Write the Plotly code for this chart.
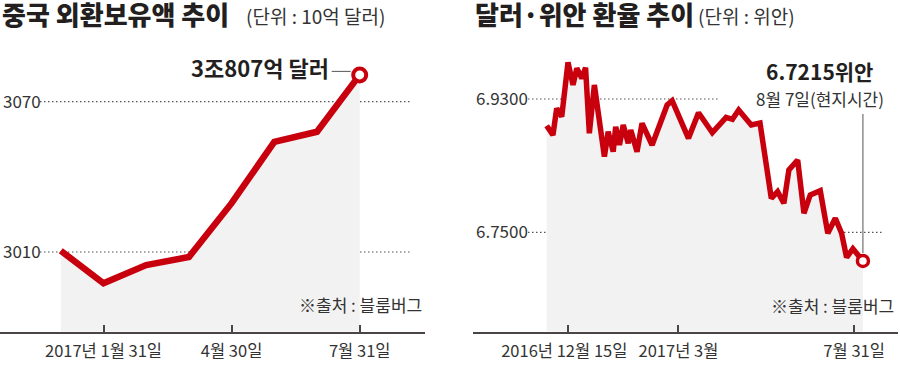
import plotly.graph_objects as go
import pandas as pd

# ---------------- data ----------------
# Left: China FX reserves (unit: 10억 달러), month-end
months = ["2016-12", "2017-01", "2017-02", "2017-03", "2017-04", "2017-05", "2017-06", "2017-07"]
reserves = [3010.5, 2997.5, 3004.8, 3008.0, 3029.5, 3054.0, 3058.0, 3080.7]
left_tick_idx = [1, 4, 7]
left_tick_text = ["2017년 1월 31일", "4월 30일", "7월 31일"]
left_y_ticks = [3010, 3070]
left_y_text = ["3010", "3070"]

# Right: USD/CNY
fx_dates = ["2016-11-28", "2016-12-03", "2016-12-06", "2016-12-10", "2016-12-15", "2016-12-19",
            "2016-12-22", "2016-12-26", "2016-12-29", "2017-01-01", "2017-01-05", "2017-01-09",
            "2017-01-13", "2017-01-16", "2017-01-20", "2017-01-22", "2017-01-25", "2017-01-28",
            "2017-02-01", "2017-02-03", "2017-02-08", "2017-02-12", "2017-02-20", "2017-03-04",
            "2017-03-08", "2017-03-21", "2017-03-29", "2017-04-09", "2017-04-20", "2017-04-25",
            "2017-04-30", "2017-05-10", "2017-05-17", "2017-05-26", "2017-05-31", "2017-06-05",
            "2017-06-09", "2017-06-16", "2017-06-21", "2017-06-26", "2017-07-04", "2017-07-10",
            "2017-07-16", "2017-07-21", "2017-07-25", "2017-07-30", "2017-08-07"]
fx_rates = [6.8940, 6.8814, 6.9174, 6.9061, 6.9795, 6.9489,
            6.9714, 6.9579, 6.9723, 6.8837, 6.9489, 6.9016,
            6.8521, 6.8859, 6.8589, 6.8926, 6.8679, 6.8949,
            6.8702, 6.8881, 6.8589, 6.8972, 6.8679, 6.9219,
            6.9277, 6.8769, 6.9115, 6.8845, 6.9053, 6.9026,
            6.9151, 6.8949, 6.8976, 6.7959, 6.8049, 6.7892,
            6.8341, 6.8476, 6.7757, 6.8004, 6.8062, 6.7487,
            6.7689, 6.7487, 6.7160, 6.7278, 6.7113]
right_tick_dates = ["2016-12-15", "2017-03-13", "2017-07-31"]
right_tick_text = ["2016년 12월 15일", "2017년 3월", "7월 31일"]
right_y_ticks = [6.75, 6.93]
right_y_text = ["6.7500", "6.9300"]

# ---------------- style ----------------
W, H = 900, 369
RED = "#c8000e"
FILL = "#f2f2f2"
INK = "#231f20"
GREY = "#333333"
AXIS = "#4a4446"
KR = "Noto Sans CJK KR"
NB = "\u00a0"


def fx(p):
    return p / W


def fy(p):
    return 1 - p / H


y_dom = [fy(331.5), fy(40)]

fig = go.Figure()

# left chart
xi = list(range(len(months)))
fig.add_trace(go.Scatter(x=xi, y=reserves, mode="lines", line=dict(color=RED, width=6.5),
                         fill="tozeroy", fillcolor=FILL, xaxis="x", yaxis="y",
                         customdata=months, hoverinfo="skip"))
fig.add_trace(go.Scatter(x=[xi[-1]], y=[reserves[-1]], mode="markers",
                         marker=dict(size=13, color="white", line=dict(color=RED, width=4)),
                         xaxis="x", yaxis="y", hoverinfo="skip"))

# right chart
fig.add_trace(go.Scatter(x=fx_dates, y=fx_rates, mode="lines", line=dict(color=RED, width=5.5),
                         fill="tozeroy", fillcolor=FILL, xaxis="x2", yaxis="y2", hoverinfo="skip"))
fig.add_trace(go.Scatter(x=[fx_dates[-1]], y=[fx_rates[-1]], mode="markers",
                         marker=dict(size=11, color="white", line=dict(color=RED, width=3.5)),
                         xaxis="x2", yaxis="y2", hoverinfo="skip"))

# axis scales
lx0, lstep = 60.8, 42.7
left_range = [(0 - lx0) / lstep, (425 - lx0) / lstep]
left_y_range = [3010 - (331.5 - 252) / 2.505, 3010 + (252 - 40) / 2.505]

d0 = pd.Timestamp("2016-12-15")
pxd = 1.255
right_range = [str(d0 + pd.Timedelta(days=(473 - 568) / pxd)),
               str(d0 + pd.Timedelta(days=(898 - 568) / pxd))]
right_y_range = [6.75 - (331.5 - 232.3) / 740.7, 6.93 + (99 - 40) / 740.7]

tickfont = dict(family=KR, size=16.5, color=GREY)
ytickfont = dict(family=KR, size=17, color=GREY)

# small label offset (as in the printed graphic)
right_tick_labels = [right_tick_text[0] + NB * 2, right_tick_text[1], right_tick_text[2]]

fig.update_layout(
    width=W, height=H, margin=dict(l=0, r=0, t=0, b=0, autoexpand=False),
    paper_bgcolor="white", plot_bgcolor="rgba(0,0,0,0)", showlegend=False,
    xaxis=dict(domain=[0, fx(425)], range=left_range, anchor="y", showgrid=False, zeroline=False,
               showline=True, linecolor=AXIS, linewidth=2, ticks="inside", ticklen=7,
               tickwidth=1.5, tickcolor=AXIS, tickvals=left_tick_idx, ticktext=left_tick_text,
               tickfont=tickfont, tickangle=0, automargin=False, ticklabelstandoff=4),
    yaxis=dict(domain=y_dom, range=left_y_range, anchor="x", showgrid=False, zeroline=False,
               showline=False, ticks="", ticklen=0, tickvals=left_y_ticks, ticktext=left_y_text,
               ticklabelposition="inside", tickfont=ytickfont, automargin=False),
    xaxis2=dict(domain=[fx(473), fx(898)], range=right_range, type="date", anchor="y2",
                showgrid=False, zeroline=False, showline=True, linecolor=AXIS, linewidth=2,
                ticks="inside", ticklen=7, tickwidth=1.5, tickcolor=AXIS,
                tickvals=right_tick_dates, ticktext=right_tick_labels, tickfont=tickfont,
                tickangle=0, automargin=False, ticklabelstandoff=4),
    yaxis2=dict(domain=y_dom, range=right_y_range, anchor="x2", showgrid=False, zeroline=False,
                showline=False, ticks="", ticklen=0, tickvals=right_y_ticks, ticktext=right_y_text,
                ticklabelposition="inside", tickfont=ytickfont, automargin=False),
)

dot = dict(color="#555555", width=1.2, dash="1.5px,2.5px")
shapes = [
    dict(type="line", xref="paper", yref="y", x0=fx(40), x1=fx(410), y0=left_y_ticks[0], y1=left_y_ticks[0], line=dot, layer="below"),
    dict(type="line", xref="paper", yref="y", x0=fx(40), x1=fx(410), y0=left_y_ticks[1], y1=left_y_ticks[1], line=dot, layer="below"),
    dict(type="line", xref="paper", yref="y2", x0=fx(528), x1=fx(883), y0=right_y_ticks[0], y1=right_y_ticks[0], line=dot, layer="below"),
    dict(type="line", xref="paper", yref="y2", x0=fx(528), x1=fx(720), y0=right_y_ticks[1], y1=right_y_ticks[1], line=dot, layer="below"),
    # connector for left label
    dict(type="line", xref="x", yref="y", xsizemode="pixel", xanchor=xi[-1], x0=-28, x1=-9,
         y0=reserves[-1] + 1.4, y1=reserves[-1] + 1.4, line=dict(color="#555555", width=1)),
    # vertical leader on right
    dict(type="line", xref="x2", yref="y2", ysizemode="pixel", yanchor=fx_rates[-1],
         x0=fx_dates[-1], x1=fx_dates[-1], y0=8, y1=147, line=dict(color="#555555", width=1)),
]
fig.update_layout(shapes=shapes)

title_font = dict(family=KR, size=26, color=INK, weight=900)
ann = []
# titles
ann.append(dict(xref="paper", yref="paper", x=0, y=fy(14), xanchor="left", yanchor="middle",
                text="중국 외환보유액 추이", showarrow=False, font=title_font))
ann.append(dict(xref="paper", yref="paper", x=fx(244), y=fy(15), xanchor="left", yanchor="middle",
                text="(단위 : 10억 달러)", showarrow=False,
                font=dict(family=KR, size=19, color=GREY)))
ann.append(dict(xref="paper", yref="paper", x=fx(473), y=fy(14), xanchor="left", yanchor="middle",
                text="달러·위안 환율 추이", showarrow=False, font=title_font))
ann.append(dict(xref="paper", yref="paper", x=fx(696), y=fy(15), xanchor="left", yanchor="middle",
                text="(단위 : 위안)", showarrow=False,
                font=dict(family=KR, size=19, color=GREY)))
# data labels
ann.append(dict(xref="paper", yref="paper", x=fx(331), y=fy(67), xanchor="right", yanchor="middle",
                text="<b>3조807억 달러</b>", showarrow=False,
                font=dict(family=KR, size=22, color=INK)))
ann.append(dict(xref="paper", yref="paper", x=fx(875), y=fy(71), xanchor="right", yanchor="middle",
                text="<b>6.7215위안</b>", showarrow=False,
                font=dict(family=KR, size=21, color=INK)))
ann.append(dict(xref="paper", yref="paper", x=fx(886), y=fy(98), xanchor="right", yanchor="middle",
                text="8월 7일(현지시간)", showarrow=False,
                font=dict(family=KR, size=17, color=GREY)))
# sources
ann.append(dict(xref="paper", yref="paper", x=fx(424), y=fy(304), xanchor="right", yanchor="middle",
                text="※출처 : 블룸버그", showarrow=False,
                font=dict(family=KR, size=17, color=GREY)))
ann.append(dict(xref="paper", yref="paper", x=fx(896), y=fy(305), xanchor="right", yanchor="middle",
                text="※출처 : 블룸버그", showarrow=False,
                font=dict(family=KR, size=17, color=GREY)))
fig.update_layout(annotations=ann)

fig.write_html("out.html", config={"displayModeBar": False},
               post_script="document.body.style.margin='0';")
